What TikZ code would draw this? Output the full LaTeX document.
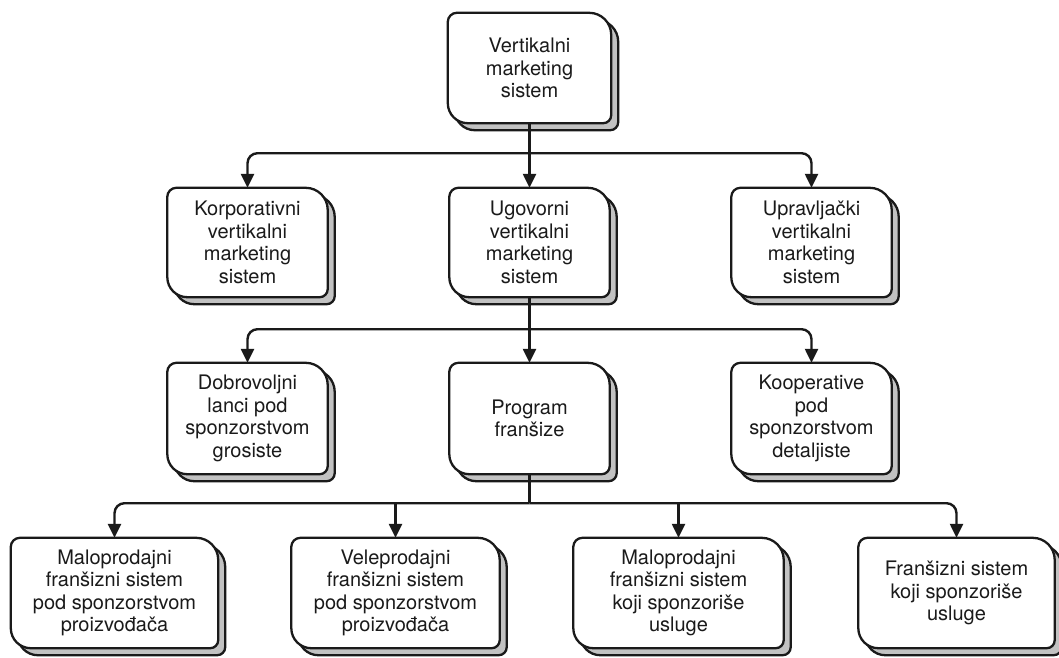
\documentclass[tikz,border=0pt]{standalone}
\usepackage{fontspec}
\setmainfont{TeX Gyre Heros}
\usetikzlibrary{arrows.meta,calc}
\pgfdeclarelayer{bg}
\pgfsetlayers{bg,main}
\definecolor{ink}{HTML}{1A1A1A}
\definecolor{shade}{HTML}{C2C2C2}
\tikzset{
  box/.style={inner sep=0pt, align=center, text=ink,
    font=\fontsize{20}{22.5}\selectfont},
  row2/.style={box, minimum width=160pt, minimum height=109pt},
  row3/.style={box, minimum width=160pt, minimum height=111pt},
  row4/.style={box, minimum height=110pt},
  conn/.style={draw=ink, line width=2.4pt, rounded corners=10pt,
    -{Triangle[width=13pt,length=14pt]}},
  bus/.style={draw=ink, line width=2.4pt},
  outline/.style={draw=ink, line width=2.3pt},
}
% card outline: small radius top left / bottom right, large radius top right / bottom left
\newcommand\cardpath[2]{%
  \filldraw[outline,#2] ([xshift=9pt]#1.north west) -- ([xshift=-22pt]#1.north east)
    arc[start angle=90,end angle=0,radius=22pt]
    -- ([yshift=8pt]#1.south east)
    arc[start angle=0,end angle=-90,radius=8pt]
    -- ([xshift=20pt]#1.south west)
    arc[start angle=270,end angle=180,radius=20pt]
    -- ([yshift=-9pt]#1.north west)
    arc[start angle=180,end angle=90,radius=9pt] -- cycle;}
\newcommand\drawcard[1]{%
  \begin{scope}[transform canvas={shift={(7pt,-7pt)}}]
    \cardpath{#1}{fill=shade}
  \end{scope}
  \cardpath{#1}{fill=white}}
\begin{document}
\begin{tikzpicture}[x=1pt,y=1pt]
\useasboundingbox (0,0) rectangle (1059,-657);

% level 1
\node[box, minimum width=163pt, minimum height=110pt] (vms) at (529.5,-68)
  {Vertikalni\\marketing\\sistem};

% level 2
\node[row2] (kor) at (247.5,-242.5) {Korporativni\\vertikalni\\marketing\\sistem};
\node[row2] (ugo) at (529.5,-242.5) {Ugovorni\\vertikalni\\marketing\\sistem};
\node[row2] (upr) at (811.5,-242.5) {Upravljački\\vertikalni\\marketing\\sistem};

% level 3
\node[row3] (dob) at (247.5,-418.5) {Dobrovoljni\\lanci pod\\sponzorstvom\\grosiste};
\node[row3] (prg) at (529.5,-418.5) {Program\\franšize};
\node[row3] (koo) at (811.5,-418.5) {Kooperative\\pod\\sponzorstvom\\detaljiste};

% level 4
\node[row4, minimum width=207pt] (mp1) at (114.5,-593)
  {Maloprodajni\\franšizni sistem\\pod sponzorstvom\\proizvođača};
\node[row4, minimum width=208pt] (vp) at (395.5,-593)
  {Veleprodajni\\franšizni sistem\\pod sponzorstvom\\proizvođača};
\node[row4, minimum width=210pt] (mp2) at (678.5,-593)
  {Maloprodajni\\franšizni sistem\\koji sponzoriše\\usluge};
\node[row4, minimum width=196pt] (fs) at (956.5,-593)
  {Franšizni sistem\\koji sponzoriše\\usluge};

\begin{pgfonlayer}{bg}
  \foreach \n in {vms,kor,ugo,upr,dob,prg,koo,mp1,vp,mp2,fs}{\drawcard{\n}}
\end{pgfonlayer}

% connectors level 1 -> 2
\coordinate (j1) at ([yshift=-30pt]vms.south);
\draw[conn] (vms.south) -- (ugo.north);
\draw[conn] (j1) -| (kor.north);
\draw[conn] (j1) -| (upr.north);

% connectors level 2 -> 3
\coordinate (j2) at ([yshift=-32pt]ugo.south);
\draw[conn] (ugo.south) -- (prg.north);
\draw[conn] (j2) -| (dob.north);
\draw[conn] (j2) -| (koo.north);

% connectors level 3 -> 4
\coordinate (j3) at ([yshift=-29pt]prg.south);
\draw[bus] (prg.south) -- (j3);
\draw[conn] (j3) -| (mp1.north);
\draw[conn] (j3) -| (fs.north);
\draw[conn] (j3 -| vp.north) -- (vp.north);
\draw[conn] (j3 -| mp2.north) -- (mp2.north);
\end{tikzpicture}
\end{document}
